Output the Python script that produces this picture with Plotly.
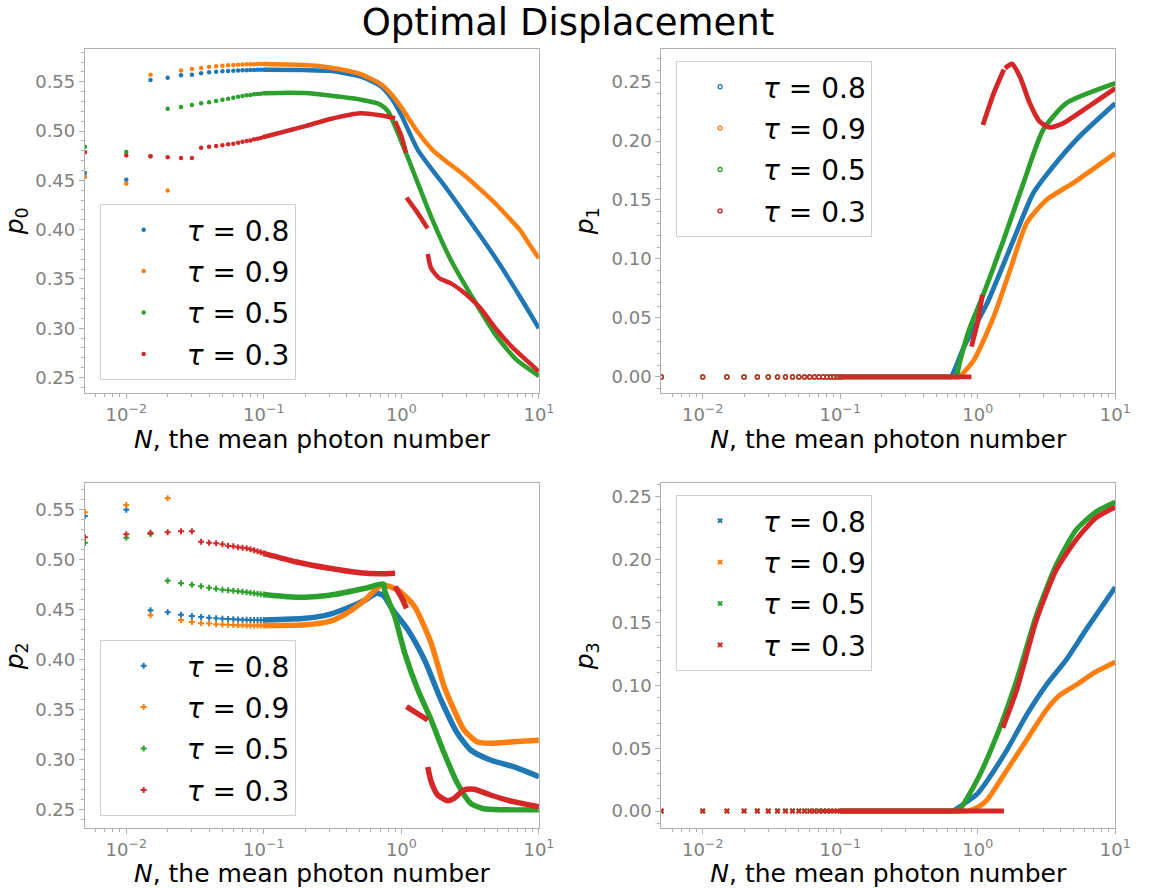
import plotly.graph_objects as go

# ---------------- data ----------------
COLORS = ["#1f77b4", "#ff7f0e", "#2ca02c", "#d62728"]
TAUS = ["0.8", "0.9", "0.5", "0.3"]

N_DOTS = [0.005, 0.010, 0.015, 0.020, 0.025, 0.030, 0.035, 0.040, 0.045, 0.050,
          0.055, 0.060, 0.065, 0.070, 0.075, 0.080, 0.085, 0.090, 0.095, 0.100]

X_TICKS = [0.01, 0.1, 1, 10]
X_TICKTEXT = ["10<sup>\u22122</sup>", "10<sup>\u22121</sup>", "10<sup>0</sup>", "10<sup>1</sup>"]

# ---- p0 ----
P0_DOTS_T08 = [0.4574, 0.4506, 0.5517, 0.5541, 0.5565, 0.5571, 0.5585, 0.5595, 0.5602, 0.5605,
               0.5609, 0.5612, 0.5615, 0.5616, 0.5617, 0.5619, 0.5620, 0.5621, 0.5622, 0.5622]
P0_DOTS_T09 = [0.4537, 0.4466, 0.5571, 0.4398, 0.5615, 0.5629, 0.5639, 0.5649, 0.5656, 0.5663,
               0.5666, 0.5669, 0.5673, 0.5675, 0.5676, 0.5677, 0.5678, 0.5679, 0.5680, 0.5680]
P0_DOTS_T05 = [0.4841, 0.4787, 0.4745, 0.5226, 0.5243, 0.5264, 0.5281, 0.5291, 0.5304, 0.5318,
               0.5328, 0.5338, 0.5348, 0.5355, 0.5362, 0.5365, 0.5372, 0.5375, 0.5379, 0.5382]
P0_DOTS_T03 = [0.4784, 0.4753, 0.4743, 0.4733, 0.4726, 0.4726, 0.4831, 0.4841, 0.4848, 0.4855,
               0.4865, 0.4872, 0.4882, 0.4892, 0.4899, 0.4905, 0.4916, 0.4922, 0.4929, 0.4939]

P0_T08_N = [0.1, 0.2, 0.3, 0.5, 0.7, 0.85, 1.0, 1.32, 2.17, 3.37, 4.95, 7.29, 10]
P0_T08 = [0.5622, 0.5618, 0.561, 0.5555, 0.546, 0.533, 0.516, 0.4807, 0.4402, 0.4029, 0.3692, 0.3319, 0.2999]
P0_T09_N = [0.1, 0.2, 0.3, 0.5, 0.7, 0.85, 1.0, 1.3, 1.69, 2.2, 2.855, 3.8, 4.95, 6.0, 7.29, 8.5, 10]
P0_T09 = [0.568, 0.567, 0.5645, 0.558, 0.548, 0.537, 0.524, 0.500, 0.4807, 0.4675, 0.4554, 0.440, 0.425,
          0.4125, 0.3996, 0.3855, 0.3709]
P0_T05_N = [0.1, 0.15, 0.2, 0.3, 0.5, 0.7, 0.8, 1.06, 1.647, 2.29, 3.37, 4.95, 6.89, 10]
P0_T05 = [0.5382, 0.5388, 0.5385, 0.536, 0.532, 0.527, 0.52, 0.4807, 0.413, 0.3692, 0.3286, 0.2914, 0.2678, 0.2515]
P0_T03_N = [0.1, 0.2, 0.3, 0.5, 0.7, 0.9, None, 0.9, 1.0, 1.08, None, 1.09, 1.32, 1.55, None,
            1.556, 1.647, 1.888, 2.29, 2.7, 3.19, 3.76, 4.95, 6.53, 8.6, 10]
P0_T03 = [0.4939, 0.505, 0.512, 0.518, 0.516, 0.513, None, 0.51, 0.495, 0.478, None, 0.4324, 0.4165, 0.4013, None,
          0.3753, 0.3607, 0.3506, 0.3455, 0.3387, 0.3303, 0.3202, 0.2982, 0.2796, 0.2644, 0.2559]

# ---- p1 ----
P1_DOTS = [0.0, 0.0, 0.0, 0.0, 0.0, 0.0, 0.0, 0.0, 0.0, 0.0,
           0.0, 0.0, 0.0, 0.0, 0.0, 0.0, 0.0, 0.0, 0.0, 0.0]
P1_T08_N = [0.1, 0.6, 0.637, 0.796, 1.17, 1.818, 2.53, 3.52, 5.47, 10]
P1_T08 = [0.0, 0.0, 0.0, 0.0257, 0.0625, 0.1161, 0.1557, 0.1782, 0.2036, 0.2319]
P1_T09_N = [0.1, 0.7, 0.732, 0.939, 1.306, 1.719, 2.265, 3.15, 4.90, 10]
P1_T09 = [0.0, 0.0, 0.0, 0.0144, 0.0511, 0.0907, 0.1303, 0.15, 0.1641, 0.1896]
P1_T05_N = [0.1, 0.67, 0.70, 0.732, 0.864, 1.107, 1.541, 2.145, 2.985, 4.39, 10]
P1_T05 = [0.0, 0.0, 0.0, 0.0102, 0.0398, 0.0709, 0.1161, 0.1641, 0.2093, 0.2319, 0.2489]
P1_T03_N = [0.1, 0.9, None, 0.9, 1.0, 1.08, None, 1.09, 1.306, 1.55, None,
            1.58, 1.768, 2.028, 2.39, 2.82, 3.33, 4.16, 6.11, 10]
P1_T03 = [0.0, 0.0, None, 0.0257, 0.047, 0.0695, None, 0.2136, 0.2404, 0.2606, None,
          0.2616, 0.2653, 0.2545, 0.2319, 0.2164, 0.2116, 0.215, 0.2277, 0.2447]

# ---- p2 ----
P2_DOTS_T08 = [0.5433, 0.5496, 0.449, 0.447, 0.4446, 0.4433, 0.4423, 0.4416, 0.441, 0.4406,
               0.4403, 0.440, 0.4398, 0.4396, 0.4395, 0.4394, 0.4393, 0.4393, 0.4393, 0.4393]
P2_DOTS_T09 = [0.547, 0.5543, 0.444, 0.561, 0.4393, 0.4373, 0.436, 0.4357, 0.435, 0.4347,
               0.4345, 0.4343, 0.4341, 0.434, 0.4339, 0.4338, 0.4337, 0.4337, 0.4337, 0.4337]
P2_DOTS_T05 = [0.5166, 0.5216, 0.5253, 0.4786, 0.476, 0.4746, 0.473, 0.4716, 0.4706, 0.4696,
               0.469, 0.4685, 0.468, 0.4675, 0.467, 0.4665, 0.466, 0.4655, 0.465, 0.4648]
P2_DOTS_T03 = [0.522, 0.525, 0.5266, 0.527, 0.528, 0.528, 0.5176, 0.5166, 0.516, 0.515,
               0.5136, 0.513, 0.512, 0.5115, 0.511, 0.510, 0.509, 0.508, 0.507, 0.506]

P2_T08_N = [0.1, 0.2, 0.3, 0.4, 0.547, 0.663, 0.75, 0.85, 1.118, 1.474, 1.943, 2.556, 3.19, 4.44, 6.53, 10]
P2_T08 = [0.4393, 0.441, 0.445, 0.451, 0.4593, 0.466, 0.463, 0.451, 0.4293, 0.3993, 0.3593, 0.326, 0.3093, 0.2993, 0.2926, 0.2826]
P2_T09_N = [0.1, 0.2, 0.3, 0.4, 0.55, 0.72, 0.948, 1.249, 1.647, 2.05, 2.42, 2.855, 3.556, 4.44, 6.53, 10]
P2_T09 = [0.4337, 0.4345, 0.438, 0.446, 0.46, 0.4743, 0.4693, 0.4526, 0.416, 0.3726, 0.3493, 0.3293, 0.3176, 0.316, 0.3176, 0.319]
P2_T05_N = [0.1, 0.15, 0.2, 0.3, 0.547, 0.74, 0.761, 0.897, 1.06, 1.32, 1.647, 2.05, 2.556, 3.19, 3.97, 5.53, 10]
P2_T05 = [0.4648, 0.4625, 0.462, 0.464, 0.471, 0.4753, 0.4676, 0.4426, 0.406, 0.3693, 0.3393, 0.306, 0.276, 0.256, 0.2505, 0.2495, 0.2495]
P2_T03_N = [0.1, 0.17, 0.3, 0.5, 0.7, 0.9, None, 0.9, 1.0, 1.09, None, 1.09, 1.3, 1.556, None,
            1.556, 1.647, 1.837, 2.17, 2.42, 2.855, 3.37, 4.44, 6.53, 10]
P2_T03 = [0.506, 0.4976, 0.491, 0.4865, 0.4855, 0.486, None, 0.4727, 0.462, 0.451, None, 0.3527, 0.346, 0.3393, None,
          0.2923, 0.2776, 0.2643, 0.2586, 0.261, 0.2693, 0.27, 0.2643, 0.2576, 0.2525]

# ---- p3 ----
P3_DOTS = [0.0, 0.0, 0.0, 0.0, 0.0, 0.0, 0.0, 0.0, 0.0, 0.0,
           0.0, 0.0, 0.0, 0.0, 0.0, 0.0, 0.0, 0.0, 0.0, 0.0]
P3_T08_N = [0.1, 0.62, 0.656, 0.8, 1.0, 1.17, 1.63, 2.265, 3.15, 4.39, 6.11, 10]
P3_T08 = [0.0, 0.0, 0.0, 0.006, 0.014, 0.024, 0.0486, 0.0764, 0.1003, 0.1202, 0.1441, 0.1783]
P3_T09_N = [0.1, 0.8, 0.85, 1.0, 1.17, 1.63, 2.265, 3.15, 3.96, 5.18, 7.2, 10]
P3_T09 = [0.0, 0.0, 0.0, 0.003, 0.0088, 0.0326, 0.0565, 0.0804, 0.0924, 0.1003, 0.1107, 0.1186]
P3_T05_N = [0.1, 0.69, 0.725, 0.991, 1.38, 1.92, 2.67, 3.72, 5.18, 7.2, 10]
P3_T05 = [0.0, 0.0, 0.0, 0.0247, 0.0605, 0.1043, 0.156, 0.1959, 0.2237, 0.2381, 0.246]
P3_T03_N = [0.1, 1.55, None, 1.52, 1.92, 2.67, 3.72, 5.18, 7.2, 10]
P3_T03 = [0.0, 0.0, None, 0.0661, 0.0963, 0.1521, 0.1919, 0.2158, 0.2333, 0.242]

# ---------------- figure ----------------
FONT = "DejaVu Sans"
W, H = 1151, 888

PANELS = [
    dict(ax="", dots=[P0_DOTS_T08, P0_DOTS_T09, P0_DOTS_T05, P0_DOTS_T03],
         curves=[(P0_T08_N, P0_T08), (P0_T09_N, P0_T09), (P0_T05_N, P0_T05), (P0_T03_N, P0_T03)],
         symbol="circle", msize=4.5, mline=0, lw=4.5, legend="legend", ylab="<i>p</i><sub>0</sub>"),
    dict(ax="2", dots=[P1_DOTS, P1_DOTS, P1_DOTS, P1_DOTS],
         curves=[(P1_T08_N, P1_T08), (P1_T09_N, P1_T09), (P1_T05_N, P1_T05), (P1_T03_N, P1_T03)],
         symbol="circle-open", msize=4, mline=1.3, lw=4.8, legend="legend2", ylab="<i>p</i><sub>1</sub>"),
    dict(ax="3", dots=[P2_DOTS_T08, P2_DOTS_T09, P2_DOTS_T05, P2_DOTS_T03],
         curves=[(P2_T08_N, P2_T08), (P2_T09_N, P2_T09), (P2_T05_N, P2_T05), (P2_T03_N, P2_T03)],
         symbol="cross", msize=5, mline=0, lw=5.5, legend="legend3", ylab="<i>p</i><sub>2</sub>"),
    dict(ax="4", dots=[P3_DOTS, P3_DOTS, P3_DOTS, P3_DOTS],
         curves=[(P3_T08_N, P3_T08), (P3_T09_N, P3_T09), (P3_T05_N, P3_T05), (P3_T03_N, P3_T03)],
         symbol="x", msize=5, mline=0, lw=5, legend="legend4", ylab="<i>p</i><sub>3</sub>"),
]

fig = go.Figure()
for p in PANELS:
    xa, ya = "x" + p["ax"], "y" + p["ax"]
    for i in range(4):
        grp = p["legend"] + "_" + str(i)
        mk = dict(symbol=p["symbol"], size=p["msize"], color=COLORS[i])
        if p["mline"]:
            mk["line"] = dict(width=p["mline"], color=COLORS[i])
        else:
            mk["line"] = dict(width=0)
        fig.add_trace(go.Scatter(
            x=N_DOTS, y=p["dots"][i], mode="markers", marker=mk,
            name="<i>\u03c4</i> = " + TAUS[i], legend=p["legend"], legendgroup=grp,
            xaxis=xa, yaxis=ya, showlegend=True, hoverinfo="skip"))
        cx, cy = p["curves"][i]
        fig.add_trace(go.Scatter(
            x=cx, y=cy, mode="lines",
            line=dict(color=COLORS[i], width=p["lw"], shape="spline", smoothing=0.6),
            legend=p["legend"], legendgroup=grp, showlegend=False,
            xaxis=xa, yaxis=ya, connectgaps=False, hoverinfo="skip"))

SPINE = "#b0b0b0"
TICKCOL = "#808080"
MINOR_X = [0.006, 0.007, 0.008, 0.009, 0.02, 0.03, 0.04, 0.05, 0.06, 0.07, 0.08, 0.09,
           0.2, 0.3, 0.4, 0.5, 0.6, 0.7, 0.8, 0.9, 2, 3, 4, 5, 6, 7, 8, 9]

XDOM_L = [86 / W, 546 / W]
XDOM_R = [670 / W, 1130 / W]
YDOM_T = [1 - 393 / H, 1 - 48.5 / H]
YDOM_B = [1 - 828.3 / H, 1 - 483.3 / H]
YRANGES = [[0.2343, 0.5837], [-0.0136, 0.2784], [0.231, 0.576], [-0.01377, 0.2609]]


def xaxis(dom, anchor):
    return dict(domain=dom, anchor=anchor, type="log", range=[-2.30103, 1.0],
                tickvals=X_TICKS, ticktext=X_TICKTEXT, ticks="outside", ticklen=5, tickwidth=1,
                tickcolor=SPINE, showline=True, linecolor=SPINE, linewidth=1, mirror=True,
                showgrid=False, zeroline=False,
                tickfont=dict(family=FONT, size=18, color=TICKCOL),
                minor=dict(tickvals=MINOR_X, ticks="outside", ticklen=3, tickcolor=SPINE, showgrid=False),
                title=dict(text="<i>N</i>, the mean photon number", standoff=4,
                           font=dict(family=FONT, size=25, color="black")))


def yaxis(dom, anchor, rng, lab):
    return dict(domain=dom, anchor=anchor, range=rng, tick0=0, dtick=0.05, tickformat=".2f",
                ticks="outside", ticklen=5, tickwidth=1, tickcolor=SPINE,
                showline=True, linecolor=SPINE, linewidth=1, mirror=True,
                showgrid=False, zeroline=False,
                tickfont=dict(family=FONT, size=18, color=TICKCOL),
                minor=dict(dtick=0.01, tick0=0, ticks="outside", ticklen=3, tickcolor=SPINE, showgrid=False),
                title=dict(text=lab, standoff=10, font=dict(family=FONT, size=25, color="black")))


def legend(x, y):
    return dict(x=x, y=y, xanchor="left", yanchor="top", xref="paper", yref="paper",
                bgcolor="rgba(255,255,255,0.8)", bordercolor="#d0d0d0", borderwidth=1,
                font=dict(family=FONT, size=28, color="black"), itemwidth=76,
                tracegroupgap=2, itemsizing="trace")


fig.update_layout(
    width=W, height=H, margin=dict(l=0, r=0, t=0, b=0),
    paper_bgcolor="white", plot_bgcolor="white",
    title=dict(text="Optimal Displacement", x=0.5, y=1 - 22 / H, xanchor="center", yanchor="middle",
               xref="paper", yref="paper", font=dict(family=FONT, size=37, color="black")),
    xaxis=xaxis(XDOM_L, "y"), yaxis=yaxis(YDOM_T, "x", YRANGES[0], PANELS[0]["ylab"]),
    xaxis2=xaxis(XDOM_R, "y2"), yaxis2=yaxis(YDOM_T, "x2", YRANGES[1], PANELS[1]["ylab"]),
    xaxis3=xaxis(XDOM_L, "y3"), yaxis3=yaxis(YDOM_B, "x3", YRANGES[2], PANELS[2]["ylab"]),
    xaxis4=xaxis(XDOM_R, "y4"), yaxis4=yaxis(YDOM_B, "x4", YRANGES[3], PANELS[3]["ylab"]),
    legend=legend(101 / W, 1 - 204 / H),
    legend2=legend(685 / W, 1 - 61 / H),
    legend3=legend(101 / W, 1 - 640 / H),
    legend4=legend(685 / W, 1 - 495 / H),
    showlegend=True,
)

fig.write_html("out.html")
